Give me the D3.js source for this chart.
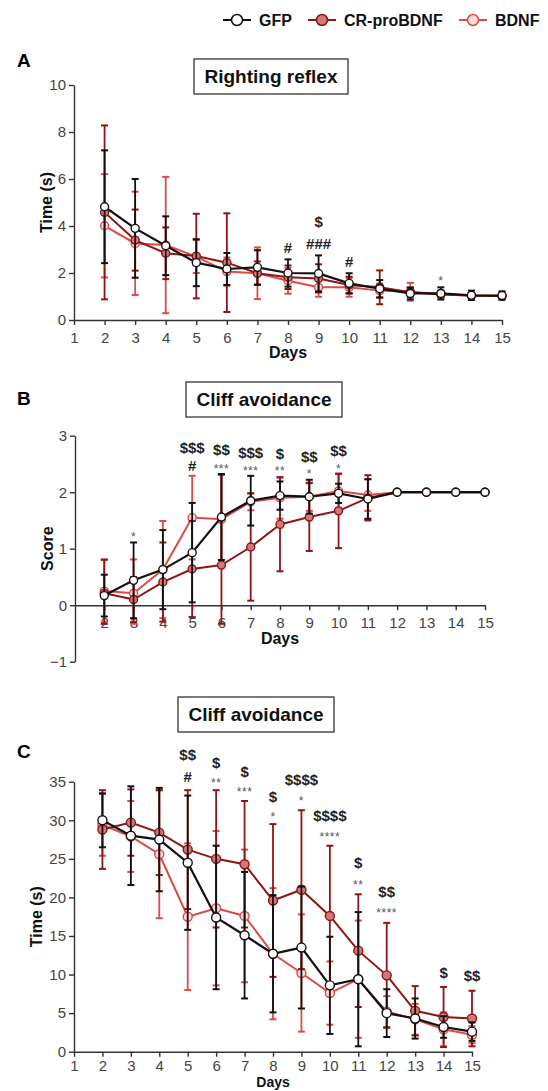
<!DOCTYPE html>
<html>
<head>
<meta charset="utf-8">
<script src="https://cdn.jsdelivr.net/npm/d3@7"></script>
<style>
  body { margin: 0; background: #fff; }
  text { font-family: 'Liberation Sans', Arial, sans-serif; }
</style>
</head>
<body>
<div id="chart"></div>
<script>
// days on the x axis
var days = [2, 3, 4, 5, 6, 7, 8, 9, 10, 11, 12, 13, 14, 15];
var dayTicks = [1, 2, 3, 4, 5, 6, 7, 8, 9, 10, 11, 12, 13, 14, 15];

// A - righting reflex, time (s), mean and SD
var gfpA   = [4.82, 3.9, 3.16, 2.44, 2.17, 2.24, 2.0, 1.98, 1.56, 1.33, 1.13, 1.13, 1.05, 1.04];
var gfpAsd = [2.4, 2.1, 1.25, 1.0, 0.68, 0.73, 0.58, 0.77, 0.43, 0.37, 0.25, 0.26, 0.2, 0.18];
var crA    = [4.58, 3.4, 2.84, 2.72, 2.44, 1.99, 1.82, 1.77, 1.49, 1.39, 1.18, 1.09, 1.04, 1.02];
var crAsd  = [3.7, 1.3, 1.1, 1.8, 2.1, 0.5, 0.5, 0.6, 0.35, 0.72, 0.2, 0.12, 0.1, 0.1];
var bdA    = [4.01, 3.26, 3.19, 2.7, 2.06, 1.99, 1.67, 1.39, 1.39, 1.25, 1.2, 1.1, 1.03, 1.02];
var bdAsd  = [2.2, 2.2, 2.9, 0.7, 0.6, 1.1, 0.55, 0.4, 0.4, 0.3, 0.38, 0.15, 0.1, 0.08];

// B - cliff avoidance score
var gfpB   = [0.17, 0.44, 0.63, 0.93, 1.56, 1.85, 1.94, 1.92, 1.98, 1.88, 2, 2, 2, 2];
var gfpBsd = [0.37, 0.67, 0.7, 0.88, 0.76, 0.44, 0.25, 0.3, 0.17, 0.35, 0, 0, 0, 0];
var crB    = [0.21, 0.1, 0.41, 0.64, 0.71, 1.03, 1.43, 1.56, 1.67, 1.9, 2, 2, 2, 2];
var crBsd  = [0.6, 0.4, 0.7, 0.85, 1.6, 0.95, 0.83, 0.6, 0.66, 0.4, 0, 0, 0, 0];
var bdB    = [0.25, 0.21, 0.63, 1.55, 1.52, 1.83, 1.9, 1.92, 2.02, 1.95, 2, 2, 2, 2];
var bdBsd  = [0.55, 0.6, 0.86, 0.74, 0.8, 0.15, 0.37, 0.25, 0.3, 0.28, 0, 0, 0, 0];

// C - cliff avoidance, time (s)
var gfpC   = [30.0, 28.0, 27.5, 24.5, 17.4, 15.1, 12.7, 13.5, 8.6, 9.4, 5.0, 4.3, 3.2, 2.6];
var gfpCsd = [3.5, 6.4, 6.7, 8.7, 9.3, 8.2, 7.6, 7.9, 6.3, 8.7, 3.1, 2.6, 1.4, 1.2];
var crC    = [28.8, 29.7, 28.4, 26.2, 25.0, 24.3, 19.6, 21.0, 17.6, 13.1, 9.9, 5.3, 4.5, 4.3];
var crCsd  = [5.1, 4.3, 5.5, 7.7, 8.9, 8.2, 9.9, 10.3, 9.1, 7.3, 6.8, 3.2, 3.9, 3.6];
var bdC    = [29.4, 27.9, 25.6, 17.5, 18.6, 17.6, 12.7, 10.2, 7.6, 9.4, 5.2, 4.2, 2.9, 2.2];
var bdCsd  = [4.0, 4.6, 8.3, 9.5, 10.0, 8.6, 8.5, 7.6, 4.1, 7.6, 2.0, 2.0, 2.2, 1.1];

// significance marks: [day, y value of baseline, text]
var annA = [[9, 3.96, "$"], [9, 3.02, "###"], [8, 2.85, "#"], [10, 2.26, "#"], [13, 1.49, "*"]];
var annB = [[5, 2.69, "$$$"], [5, 2.37, "#"], [6, 2.65, "$$"], [6, 2.34, "***"],
            [7, 2.60, "$$$"], [7, 2.30, "***"], [8, 2.58, "$"], [8, 2.30, "**"],
            [9, 2.53, "$$"], [9, 2.25, "*"], [10, 2.64, "$$"], [10, 2.34, "*"], [3, 1.13, "*"]];
var annC = [[5, 37.8, "$$"], [5, 35.0, "#"], [6, 36.8, "$"], [6, 34.3, "**"],
            [7, 35.6, "$"], [7, 33.1, "***"], [8, 32.4, "$"], [8, 29.9, "*"],
            [9, 34.6, "$$$$"], [9, 32.0, "*"], [10, 29.9, "$$$$"], [10, 27.3, "****"],
            [11, 23.8, "$"], [11, 21.1, "**"], [12, 20.0, "$$"], [12, 17.5, "****"],
            [14, 9.6, "$"], [15, 9.2, "$$"]];

var groups = ["GFP", "CR-proBDNF", "BDNF"];
var style = {
  "GFP":        {line: "#111111", fill: "#ffffff", w: 2.2},
  "CR-proBDNF": {line: "#8e1515", fill: "#d27878", w: 2},
  "BDNF":       {line: "#dc4a4a", fill: "#fadcdc", w: 2}
};

var width = 548, height = 1091;
var svg = d3.select("#chart").append("svg")
    .attr("width", width)
    .attr("height", height);

// legend
var legX = {"GFP": 237, "CR-proBDNF": 322, "BDNF": 473};
groups.forEach(function(gname) {
  var s = style[gname], cx = legX[gname];
  var lg = svg.append("g");
  lg.append("line").attr("x1", cx - 14).attr("x2", cx + 14).attr("y1", 20).attr("y2", 20)
    .attr("stroke", s.line).attr("stroke-width", 2);
  lg.append("circle").attr("cx", cx).attr("cy", 20).attr("r", 5.5)
    .attr("fill", s.fill).attr("stroke", s.line).attr("stroke-width", 1.5);
  lg.append("text").attr("x", cx + 22).attr("y", 26)
    .attr("font-size", 16).attr("font-weight", "bold").attr("fill", "#111")
    .text(gname);
});

function drawPanel(p) {
  var x = d3.scaleLinear().domain([1, 15]).range(p.xr);
  var y = d3.scaleLinear().domain(p.yd).range(p.yr);
  var g = svg.append("g");
  var lo = p.errMin == null ? -Infinity : p.errMin;

  // panel letter and title box
  g.append("text").attr("x", 17).attr("y", p.letterY)
    .attr("font-size", 19).attr("font-weight", "bold").text(p.letter);
  g.append("rect").attr("x", p.box[0]).attr("y", p.box[1])
    .attr("width", p.box[2]).attr("height", p.box[3])
    .attr("fill", "#fff").attr("stroke", "#333").attr("stroke-width", 1.3);
  g.append("text").attr("x", p.box[0] + p.box[2] / 2).attr("y", p.box[1] + p.box[3] / 2 + 6.5)
    .attr("text-anchor", "middle").attr("font-size", 19).attr("font-weight", "bold")
    .attr("fill", "#111").text(p.title);

  // axes
  var xa = g.append("g")
    .attr("transform", "translate(0," + y(0) + ")")
    .call(d3.axisBottom(x).tickValues(p.xTicks).tickSize(5).tickSizeOuter(0).tickPadding(p.xPad));
  var ya = g.append("g")
    .attr("transform", "translate(" + p.xr[0] + ",0)")
    .call(d3.axisLeft(y).tickValues(p.yTicks).tickSize(5).tickSizeOuter(0).tickPadding(3)
      .tickFormat(function(d) { return d < 0 ? "\u2212" + Math.abs(d) : d; }));
  [xa, ya].forEach(function(a) {
    a.select(".domain").attr("stroke", "#333").attr("stroke-width", 1.4);
    a.selectAll(".tick line").attr("stroke", "#333").attr("stroke-width", 1.4);
    a.selectAll(".tick text").attr("font-size", 15).attr("fill", "#444")
      .style("font-family", "'Liberation Sans', Arial, sans-serif");
  });

  g.append("text")
    .attr("transform", "translate(" + p.yLabX + "," + (p.yr[0] + p.yr[1]) / 2 + ") rotate(-90)")
    .attr("text-anchor", "middle").attr("font-size", 16).attr("font-weight", "bold")
    .attr("fill", "#111").text(p.yLabel);
  g.append("text")
    .attr("x", (p.xr[0] + p.xr[1]) / 2).attr("y", p.daysY)
    .attr("text-anchor", "middle").attr("font-size", p.daysSize).attr("font-weight", "bold")
    .attr("fill", "#111").text("Days");

  // series, drawn back to front
  var line = d3.line().x(function(d) { return x(d.day); }).y(function(d) { return y(d.v); });
  ["BDNF", "CR-proBDNF", "GFP"].forEach(function(gname) {
    var s = style[gname];
    var pts = days.map(function(d, i) {
      var m = p.series[gname][0][i], sd = p.series[gname][1][i];
      return {day: d, v: m, sd: sd, top: m + sd, bot: Math.max(m - sd, lo)};
    });
    var sg = g.append("g");
    var eb = sg.selectAll(".err").data(pts.filter(function(d) { return d.sd > 0; }))
      .enter().append("g");
    eb.append("line")
      .attr("x1", function(d) { return x(d.day); }).attr("x2", function(d) { return x(d.day); })
      .attr("y1", function(d) { return y(d.bot); }).attr("y2", function(d) { return y(d.top); })
      .attr("stroke", s.line).attr("stroke-width", 1.8);
    ["top", "bot"].forEach(function(k) {
      eb.append("line")
        .attr("x1", function(d) { return x(d.day) - 3.5; }).attr("x2", function(d) { return x(d.day) + 3.5; })
        .attr("y1", function(d) { return y(d[k]); })
        .attr("y2", function(d) { return y(d[k]); })
        .attr("stroke", s.line).attr("stroke-width", 2);
    });
    sg.append("path").datum(pts).attr("d", line)
      .attr("fill", "none").attr("stroke", s.line).attr("stroke-width", s.w);
    sg.selectAll("circle").data(pts).enter().append("circle")
      .attr("cx", function(d) { return x(d.day); }).attr("cy", function(d) { return y(d.v); })
      .attr("r", p.r).attr("fill", s.fill).attr("stroke", s.line).attr("stroke-width", 1.4);
  });

  // significance marks
  g.selectAll(".ann").data(p.ann).enter().append("text")
    .attr("x", function(d) { return x(d[0]); })
    .attr("y", function(d) { return y(d[1]); })
    .attr("text-anchor", "middle")
    .attr("font-size", function(d) { return d[2].charAt(0) == "*" ? 12 : 15; })
    .attr("font-weight", function(d) { return d[2].charAt(0) == "*" ? "normal" : "bold"; })
    .attr("letter-spacing", function(d) { return d[2].charAt(0) == "*" ? 0.5 : 0; })
    .attr("fill", function(d) { return d[2].charAt(0) == "*" ? "#555" : "#222"; })
    .text(function(d) { return d[2]; });
}

drawPanel({
  letter: "A", letterY: 67, title: "Righting reflex", box: [194, 59, 154, 35],
  xr: [74, 502], yr: [320, 85], yd: [0, 10], yTicks: [0, 2, 4, 6, 8, 10], xTicks: dayTicks,
  xPad: 7, yLabel: "Time (s)", yLabX: 52, daysY: 358, daysSize: 16, r: 4,
  series: {"GFP": [gfpA, gfpAsd], "CR-proBDNF": [crA, crAsd], "BDNF": [bdA, bdAsd]},
  ann: annA
});

drawPanel({
  letter: "B", letterY: 405, title: "Cliff avoidance", box: [186, 382, 156, 35],
  xr: [75, 485], yr: [661.7, 435.7], yd: [-1, 3], yTicks: [-1, 0, 1, 2, 3], xTicks: days,
  xPad: 7, yLabel: "Score", yLabX: 53, daysY: 644, daysSize: 16, r: 4, errMin: -0.33,
  series: {"GFP": [gfpB, gfpBsd], "CR-proBDNF": [crB, crBsd], "BDNF": [bdB, bdBsd]},
  ann: annB
});

drawPanel({
  letter: "C", letterY: 758, title: "Cliff avoidance", box: [178, 697, 156, 35],
  xr: [74, 472], yr: [1051.7, 781.7], yd: [0, 35], yTicks: [0, 5, 10, 15, 20, 25, 30, 35], xTicks: dayTicks,
  xPad: 4, yLabel: "Time (s)", yLabX: 42, daysY: 1087, daysSize: 14, r: 4.5,
  series: {"GFP": [gfpC, gfpCsd], "CR-proBDNF": [crC, crCsd], "BDNF": [bdC, bdCsd]},
  ann: annC
});
</script>
</body>
</html>
